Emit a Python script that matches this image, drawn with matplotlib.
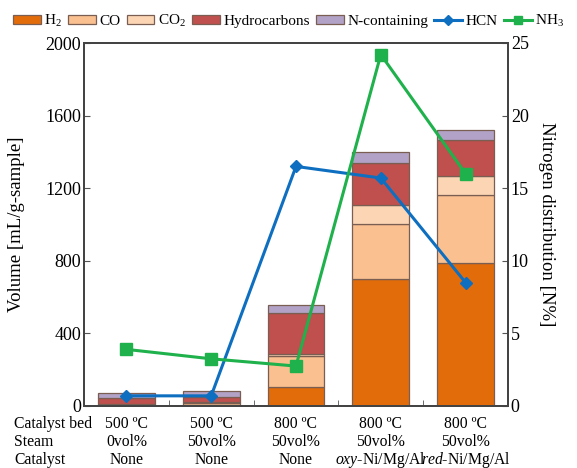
import numpy as np
import matplotlib.pyplot as plt
import matplotlib.transforms as mtransforms
from matplotlib.patches import Patch
from matplotlib.lines import Line2D

plt.rcParams['font.family'] = ['Liberation Serif', 'DejaVu Serif']
plt.rcParams['mathtext.fontset'] = 'custom'
plt.rcParams['mathtext.rm'] = 'Liberation Serif'
plt.rcParams['mathtext.it'] = 'Liberation Serif:italic'

# data
bed = ['500 ºC', '500 ºC', '800 ºC', '800 ºC', '800 ºC']
steam = ['0vol%', '50vol%', '50vol%', '50vol%', '50vol%']
catalyst = ['None', 'None', 'None', r'$\it{oxy}$-Ni/Mg/Al', r'$\it{red}$-Ni/Mg/Al']

h2 = [5, 6, 105, 700, 790]
co = [4, 8, 170, 303, 375]
co2 = [3, 6, 12, 104, 100]
hydrocarbons = [32, 32, 225, 232, 200]
n_containing = [28, 31, 45, 60, 55]

hcn = [0.7, 0.7, 16.5, 15.7, 8.5]
nh3 = [3.9, 3.25, 2.75, 24.2, 16.0]

gas_names = [r'H$_2$', 'CO', r'CO$_2$', 'Hydrocarbons', 'N-containing']
gas_colors = ['#E36C0A', '#FAC090', '#FCD5B5', '#C0504D', '#B3A2C7']
edge = '#7a5e52'

fig = plt.figure(figsize=(5.77, 4.68), dpi=100)
ax = fig.add_axes([84 / 577, 62 / 468, 424 / 577, 363 / 468])
x = np.arange(len(bed))

bottom = np.zeros(len(bed))
for vals, c in zip([h2, co, co2, hydrocarbons, n_containing], gas_colors):
    ax.bar(x, vals, width=0.67, bottom=bottom, color=c, edgecolor=edge, linewidth=0.9)
    bottom += np.array(vals)

ax.set_xlim(-0.5, 4.5)
ax.set_ylim(0, 2000)
ax.set_yticks(np.arange(0, 2001, 400))
ax.set_xticks([])
ax.set_xticks(np.arange(0.5, 4.0, 1.0), minor=True)
ax.tick_params(axis='x', which='minor', direction='in', length=4, color='#555555')
ax.tick_params(axis='y', direction='in', length=4, labelsize=13, color='#555555', pad=2)
ax.set_ylabel('Volume [mL/g-sample]', fontsize=13.5)
ax.yaxis.set_label_coords(-0.14, 0.5)

ax2 = ax.twinx()
ax2.plot(x, hcn, color='#0E6FC1', marker='D', markersize=6, linewidth=2.2)
ax2.plot(x, nh3, color='#1FB14B', marker='s', markersize=8, linewidth=2.2)
ax2.set_ylim(0, 25)
ax2.set_yticks(np.arange(0, 26, 5))
ax2.tick_params(axis='y', direction='in', length=4, labelsize=13, color='#555555', pad=2)
ax2.set_ylabel('Nitrogen distribution [N%]', fontsize=13.5, rotation=270)
ax2.yaxis.set_label_coords(1.11, 0.5)

for a in (ax, ax2):
    for s in a.spines.values():
        s.set_color('#444444')
        s.set_linewidth(1.4)

# condition table under the axis
trans = mtransforms.blended_transform_factory(ax.transData, fig.transFigure)
rows = [('Catalyst bed', bed), ('Steam', steam), ('Catalyst', catalyst)]
for r, (name, labels) in enumerate(rows):
    yy = 1 - (423.5 + r * 18) / 468
    fig.text(14 / 577, yy, name, fontsize=11.3, va='center', ha='left')
    for i, lab in enumerate(labels):
        ax.text(x[i], yy, lab, transform=trans, fontsize=11.3, va='center', ha='center')

handles = [Patch(facecolor=c, edgecolor=edge, linewidth=0.9) for c in gas_colors]
handles += [Line2D([], [], color='#0E6FC1', marker='D', markersize=5, linewidth=2.2),
            Line2D([], [], color='#1FB14B', marker='s', markersize=6, linewidth=2.2)]
labels = gas_names + ['HCN', r'NH$_3$']
fig.legend(handles, labels, loc='center left', bbox_to_anchor=(13 / 577, 1 - 21 / 468),
           ncol=7, frameon=False, fontsize=11, handlelength=1.8, handleheight=0.55,
           handletextpad=0.25, columnspacing=0.4, borderpad=0, borderaxespad=0)

fig.savefig('out.png', dpi=100)
